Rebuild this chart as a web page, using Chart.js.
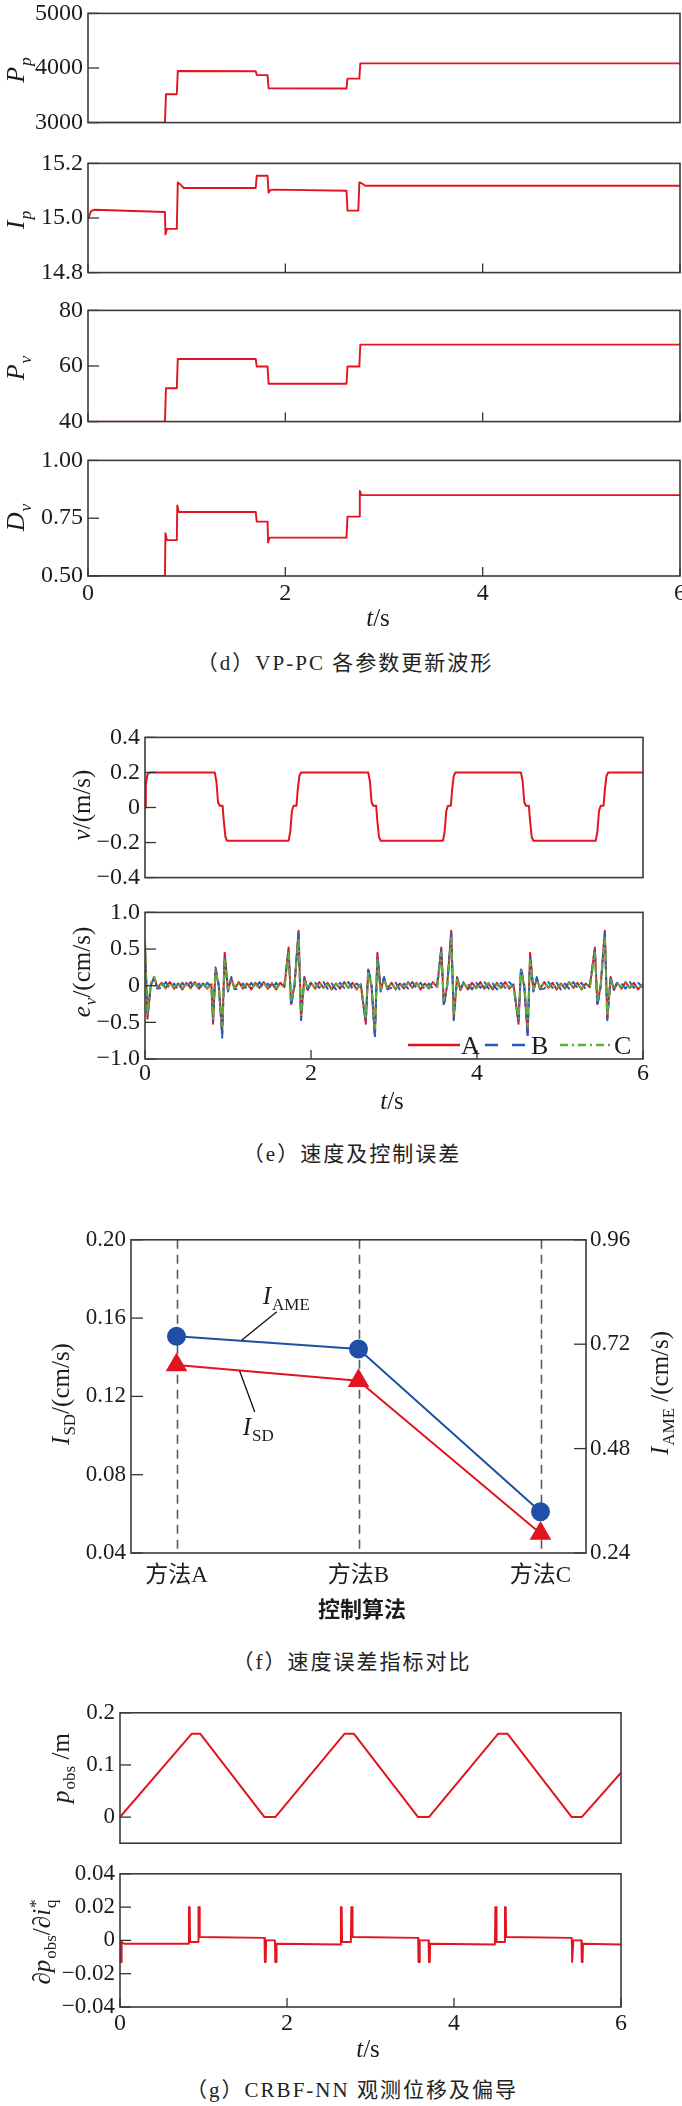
<!DOCTYPE html>
<html><head><meta charset="utf-8">
<script src="https://cdn.jsdelivr.net/npm/chart.js@4.4.1/dist/chart.umd.min.js"></script>
<style>
html,body{margin:0;padding:0;background:#fff;}
body{width:682px;height:2106px;position:relative;overflow:hidden;}
.cap{position:absolute;text-align:center;font-size:21px;line-height:26px;font-family:"Liberation Serif","Noto Sans CJK SC",serif;color:#222;letter-spacing:2px;white-space:nowrap;}
</style></head><body>
<div class="cap" style="top:650px;left:0;width:690px">（d）VP-PC 各参数更新波形</div>
<div class="cap" style="top:1141px;left:0;width:704px">（e）速度及控制误差</div>
<div class="cap" style="top:1649px;left:0;width:704px">（f）速度误差指标对比</div>
<div class="cap" style="top:2077px;left:0;width:704px">（g）CRBF-NN 观测位移及偏导</div>
<script>
// ---------------- DATA ----------------
// (d) VP-PC parameter update waveforms
const tPp = [0, 0.78, 0.79, 0.90, 0.91, 1.70, 1.71, 1.82, 1.83, 2.62, 2.63, 2.75, 2.76, 6];
const Pp  = [3000, 3000, 3520, 3520, 3945, 3940, 3870, 3870, 3630, 3625, 3805, 3805, 4085, 4085];
const tIp = [0, 0.03, 0.06, 0.78, 0.785, 0.80, 0.90, 0.91, 0.93, 0.97, 1.70, 1.71, 1.82, 1.83, 1.85, 1.90, 2.62, 2.63, 2.74, 2.75, 2.77, 2.81, 6];
const Ip  = [14.995, 15.025, 15.03, 15.022, 14.94, 14.96, 14.96, 15.13, 15.125, 15.11, 15.11, 15.155, 15.155, 15.093, 15.103, 15.104, 15.10, 15.027, 15.027, 15.13, 15.128, 15.118, 15.118];
const tPv = [0, 0.78, 0.79, 0.90, 0.91, 1.70, 1.71, 1.82, 1.83, 2.62, 2.63, 2.75, 2.76, 6];
const Pv  = [40, 40, 52, 52, 62.5, 62.5, 59.8, 59.8, 53.6, 53.6, 59.8, 59.8, 67.7, 67.7];
const tDv = [0, 0.78, 0.785, 0.80, 0.90, 0.905, 0.92, 1.70, 1.71, 1.82, 1.825, 1.84, 2.62, 2.63, 2.75, 2.755, 2.77, 6];
const Dv  = [0.50, 0.50, 0.685, 0.655, 0.655, 0.805, 0.777, 0.777, 0.735, 0.735, 0.645, 0.666, 0.666, 0.757, 0.757, 0.868, 0.85, 0.85];

// (e) speed and control error
const tV = [0, 0.01, 0.03, 0.06,
  0.84, 0.86, 0.88, 0.90, 0.935, 0.95, 0.97, 0.99,
  1.73, 1.75, 1.77, 1.79, 1.825, 1.84, 1.86, 1.88,
  2.69, 2.71, 2.73, 2.75, 2.785, 2.80, 2.82, 2.84,
  3.59, 3.61, 3.63, 3.65, 3.685, 3.70, 3.72, 3.74,
  4.53, 4.55, 4.57, 4.59, 4.625, 4.64, 4.66, 4.68,
  5.43, 5.45, 5.47, 5.49, 5.525, 5.54, 5.56, 5.58,
  6];
const vel = [0, 0.13, 0.19, 0.2,
  0.2, 0.15, 0.03, 0.01, 0.01, -0.08, -0.17, -0.19,
  -0.19, -0.14, -0.02, 0.01, 0.01, 0.1, 0.18, 0.2,
  0.2, 0.15, 0.03, 0.01, 0.01, -0.08, -0.17, -0.19,
  -0.19, -0.14, -0.02, 0.01, 0.01, 0.1, 0.18, 0.2,
  0.2, 0.15, 0.03, 0.01, 0.01, -0.08, -0.17, -0.19,
  -0.19, -0.14, -0.02, 0.01, 0.01, 0.1, 0.18, 0.2,
  0.2];
const eTime = [0,0.03,0.07,0.11,0.15,
  0.20,0.25,0.30,0.35,0.40,0.45,0.50,0.55,0.60,0.65,0.70,0.75,0.80,
  0.82,0.85,0.89,0.93,0.96,1.00,1.04,1.08,
  1.13,1.18,1.23,1.28,1.33,1.38,1.43,1.48,1.53,1.58,1.63,1.68,
  1.73,1.76,1.80,1.85,1.88,1.92,1.96,2.00,
  2.05,2.10,2.15,2.20,2.25,2.30,2.35,2.40,2.45,2.50,2.55,2.60,
  2.66,2.69,2.73,2.77,2.80,2.84,2.88,2.92,
  2.97,3.02,3.07,3.12,3.17,3.22,3.27,3.32,3.37,3.42,3.47,3.52,
  3.57,3.60,3.64,3.69,3.72,3.76,3.80,3.84,
  3.89,3.94,3.99,4.04,4.09,4.14,4.19,4.24,4.29,4.34,4.39,4.44,
  4.50,4.53,4.57,4.61,4.64,4.68,4.72,4.76,
  4.81,4.86,4.91,4.96,5.01,5.06,5.11,5.16,5.21,5.26,5.31,5.36,
  5.42,5.45,5.49,5.54,5.57,5.61,5.65,5.69,
  5.74,5.79,5.84,5.89,5.94,6.00];
const errA = [0.55,-0.45,0.00,0.12,-0.03,
  0.04,-0.03,0.05,-0.04,0.03,-0.05,0.04,-0.03,0.05,-0.04,0.03,-0.04,0.02,
  -0.52,0.22,-0.02,-0.65,0.45,-0.06,0.10,-0.04,
  0.05,-0.04,0.03,-0.05,0.04,-0.03,0.05,-0.04,0.03,-0.05,0.04,-0.02,
  0.52,-0.25,0.00,0.75,-0.45,0.12,-0.06,0.04,
  -0.04,0.05,-0.03,0.04,-0.05,0.03,-0.04,0.05,-0.03,0.04,-0.05,0.02,
  -0.52,0.22,-0.02,-0.68,0.45,-0.06,0.10,-0.04,
  0.04,-0.05,0.03,-0.04,0.05,-0.03,0.04,-0.05,0.03,-0.04,0.05,-0.02,
  0.52,-0.25,0.00,0.75,-0.45,0.12,-0.06,0.04,
  -0.05,0.04,-0.03,0.05,-0.04,0.03,-0.05,0.04,-0.03,0.05,-0.04,0.02,
  -0.52,0.22,-0.02,-0.66,0.45,-0.06,0.10,-0.04,
  0.05,-0.03,0.04,-0.05,0.03,-0.04,0.05,-0.03,0.04,-0.05,0.03,-0.02,
  0.52,-0.25,0.00,0.75,-0.45,0.12,-0.06,0.04,
  -0.04,0.05,-0.03,0.04,-0.05,0.02];
const errB = [0.50,-0.42,0.02,0.10,-0.04,
  -0.03,0.05,-0.04,0.03,-0.05,0.04,-0.03,0.05,-0.04,0.03,-0.05,0.04,-0.02,
  -0.48,0.25,0.01,-0.71,0.40,-0.08,0.12,-0.05,
  -0.04,0.03,-0.05,0.04,-0.03,0.05,-0.04,0.03,-0.05,0.04,-0.03,0.02,
  0.50,-0.28,-0.02,0.72,-0.47,0.10,-0.05,0.05,
  0.04,-0.03,0.05,-0.04,0.03,-0.05,0.04,-0.03,0.05,-0.04,0.03,-0.02,
  -0.48,0.25,0.01,-0.72,0.40,-0.08,0.12,-0.05,
  -0.03,0.04,-0.05,0.03,-0.04,0.05,-0.03,0.04,-0.05,0.03,-0.04,0.02,
  0.50,-0.28,-0.02,0.72,-0.47,0.10,-0.05,0.05,
  0.03,-0.05,0.04,-0.03,0.05,-0.04,0.03,-0.05,0.04,-0.03,0.05,-0.02,
  -0.48,0.25,0.01,-0.71,0.40,-0.08,0.12,-0.05,
  -0.04,0.05,-0.03,0.04,-0.05,0.03,-0.04,0.05,-0.03,0.04,-0.05,0.02,
  0.50,-0.28,-0.02,0.72,-0.47,0.10,-0.05,0.05,
  0.03,-0.04,0.05,-0.03,0.04,-0.02];
const errC = [0.62,-0.40,0.03,0.12,-0.02,
  0.02,-0.04,0.03,-0.02,0.04,-0.03,0.02,-0.04,0.03,-0.02,0.04,-0.03,0.02,
  -0.45,0.20,0.00,-0.55,0.35,-0.05,0.08,-0.03,
  0.03,-0.02,0.04,-0.03,0.02,-0.04,0.03,-0.02,0.04,-0.03,0.02,-0.02,
  0.45,-0.20,0.00,0.65,-0.40,0.08,-0.04,0.03,
  -0.02,0.04,-0.03,0.02,-0.04,0.03,-0.02,0.04,-0.03,0.02,-0.04,0.02,
  -0.45,0.20,0.00,-0.58,0.35,-0.05,0.08,-0.03,
  0.03,-0.04,0.02,-0.03,0.04,-0.02,0.03,-0.04,0.02,-0.03,0.04,-0.02,
  0.45,-0.20,0.00,0.65,-0.40,0.08,-0.04,0.03,
  -0.03,0.02,-0.04,0.03,-0.02,0.04,-0.03,0.02,-0.04,0.03,-0.02,0.02,
  -0.45,0.20,0.00,-0.56,0.35,-0.05,0.08,-0.03,
  0.04,-0.02,0.03,-0.04,0.02,-0.03,0.04,-0.02,0.03,-0.04,0.02,-0.02,
  0.45,-0.20,0.00,0.65,-0.40,0.08,-0.04,0.03,
  -0.02,0.04,-0.03,0.02,-0.04,0.02];

// (f) speed-error index comparison
const methods = ['方法A', '方法B', '方法C'];
const isd  = [0.136, 0.128, 0.050];
const iame = [0.738, 0.709, 0.335];

// (g) CRBF-NN observed displacement and partial derivative
const tPobs = [0, 0.86, 0.96, 1.73, 1.86, 2.69, 2.80, 3.57, 3.70, 4.53, 4.64, 5.41, 5.53, 6];
const pobs  = [0, 0.16, 0.16, 0, 0, 0.16, 0.16, 0, 0, 0.16, 0.16, 0, 0, 0.085];
const tDp = [0, 0.005, 0.015, 0.02, 0.05,
  0.82, 0.825, 0.835, 0.84, 0.935, 0.94, 0.95, 0.955,
  1.73, 1.735, 1.745, 1.75, 1.855, 1.86, 1.87, 1.875,
  2.64, 2.645, 2.655, 2.66, 2.765, 2.77, 2.78, 2.785,
  3.57, 3.575, 3.585, 3.59, 3.695, 3.70, 3.71, 3.715,
  4.49, 4.495, 4.505, 4.51, 4.605, 4.61, 4.62, 4.625,
  5.41, 5.415, 5.425, 5.43, 5.525, 5.53, 5.54, 5.545,
  6];
const dpdi = [0, -0.013, -0.013, -0.001, -0.002,
  -0.002, 0.02, 0.02, -0.001, -0.001, 0.02, 0.02, 0.002,
  0.0015, -0.013, -0.013, 0.0, 0.0, -0.013, -0.013, -0.002,
  -0.0025, 0.02, 0.02, -0.001, -0.001, 0.02, 0.02, 0.002,
  0.0015, -0.013, -0.013, 0.0, 0.0, -0.013, -0.013, -0.002,
  -0.0025, 0.02, 0.02, -0.001, -0.001, 0.02, 0.02, 0.002,
  0.0015, -0.013, -0.013, 0.0, 0.0, -0.013, -0.013, -0.002,
  -0.0025];

// tick values / labels
const tTickV = [0, 2, 4, 6];          const tTickL = ['0', '2', '4', '6'];
const PpTickV = [3000, 4000, 5000];   const PpTickL = ['3000', '4000', '5000'];
const IpTickV = [14.8, 15.0, 15.2];   const IpTickL = ['14.8', '15.0', '15.2'];
const PvTickV = [40, 60, 80];         const PvTickL = ['40', '60', '80'];
const DvTickV = [0.5, 0.75, 1.0];     const DvTickL = ['0.50', '0.75', '1.00'];
const vTickV = [-0.4, -0.2, 0, 0.2, 0.4]; const vTickL = ['\u22120.4', '\u22120.2', '0', '0.2', '0.4'];
const eTickV = [-1, -0.5, 0, 0.5, 1];     const eTickL = ['\u22121.0', '\u22120.5', '0', '0.5', '1.0'];
const sdTickV = [0.04, 0.08, 0.12, 0.16, 0.20]; const sdTickL = ['0.04', '0.08', '0.12', '0.16', '0.20'];
const amTickV = [0.24, 0.48, 0.72, 0.96];       const amTickL = ['0.24', '0.48', '0.72', '0.96'];
const poTickV = [0, 0.1, 0.2];        const poTickL = ['0', '0.1', '0.2'];
const dpTickV = [-0.04, -0.02, 0, 0.02, 0.04]; const dpTickL = ['\u22120.04', '\u22120.02', '0', '0.02', '0.04'];

// ---------------- RENDERING ----------------
const SERIF = '"Liberation Serif","Times New Roman",serif';
const MIXED = '"Liberation Serif","Noto Sans CJK SC",serif';
const CW = 700;
const RED = '#e2141f', BLUE = '#1f4fa6', BLUEL = '#2c57c4', GREEN = '#5db034', INK = '#1c1c1c';
const DECO = new Map();

function xy(ts, vs) { return ts.map((t, i) => ({ x: t, y: vs[i] })); }

function fnt(sz, it, bold, fam) { return (it ? 'italic ' : '') + (bold ? 'bold ' : '') + sz + 'px ' + (fam || SERIF); }
function richLayout(ctx, parts, size, bold, fam) {
  let x = 0; const out = [];
  for (const p of parts) {
    if (p.t !== undefined) {
      ctx.font = fnt(size, p.i, bold, fam);
      out.push({ t: p.t, x, dy: 0, font: ctx.font });
      x += ctx.measureText(p.t).width;
    } else {
      const ss = size * 0.68; let w = 0;
      ctx.font = fnt(ss, p.i, bold, fam);
      if (p.sub) { out.push({ t: p.sub, x: x + 1, dy: size * 0.26, font: ctx.font }); w = Math.max(w, ctx.measureText(p.sub).width + 1); }
      if (p.sup) { out.push({ t: p.sup, x: x + 1, dy: -size * 0.36, font: ctx.font }); w = Math.max(w, ctx.measureText(p.sup).width + 1); }
      x += w;
    }
  }
  return { out, w: x };
}
function drawRich(ctx, parts, x, y, size, rot, align, bold, fam) {
  ctx.save();
  ctx.translate(x, y);
  if (rot) ctx.rotate(rot);
  const L = richLayout(ctx, parts, size, bold, fam);
  ctx.fillStyle = INK; ctx.textAlign = 'left'; ctx.textBaseline = 'alphabetic';
  const x0 = align === 'left' ? 0 : -L.w / 2;
  const base = align === 'left' ? 0 : size * 0.34;
  for (const it of L.out) { ctx.font = it.font; ctx.fillText(it.t, x0 + it.x, base + it.dy); }
  ctx.restore();
}

const decoPlugin = {
  id: 'deco',
  beforeDatasetsDraw(chart) {
    const o = DECO.get(chart.canvas); if (!o || !o.vlines) return;
    const ctx = chart.ctx, a = chart.chartArea, s = chart.scales.x;
    ctx.save(); ctx.strokeStyle = '#5a5a5a'; ctx.lineWidth = 1.6; ctx.setLineDash([9, 6]);
    o.vlines.forEach(v => { const p = Math.round(s.getPixelForValue(v)) + 0.5; ctx.beginPath(); ctx.moveTo(p, a.top); ctx.lineTo(p, a.bottom); ctx.stroke(); });
    ctx.restore();
  },
  afterDraw(chart) {
    const o = DECO.get(chart.canvas); if (!o) return;
    const ctx = chart.ctx, a = chart.chartArea;
    ctx.save();
    ctx.setLineDash([]);
    ctx.strokeStyle = '#333'; ctx.lineWidth = 1.3;
    (o.ticks || []).forEach(([id, side, len]) => {
      const s = chart.scales[id];
      s.ticks.forEach(tk => {
        const p = s.getPixelForValue(tk.value);
        ctx.beginPath();
        if (side === 'bottom') { ctx.moveTo(p, a.bottom); ctx.lineTo(p, a.bottom - len); }
        else if (side === 'left') { ctx.moveTo(a.left, p); ctx.lineTo(a.left + len, p); }
        else { ctx.moveTo(a.right, p); ctx.lineTo(a.right - len, p); }
        ctx.stroke();
      });
    });
    ctx.strokeStyle = '#3b3b3b'; ctx.lineWidth = 1.6;
    ctx.strokeRect(a.left, a.top, a.right - a.left, a.bottom - a.top);
    if (o.leaders) {
      const sx = chart.scales.x, sy = chart.scales.y;
      ctx.strokeStyle = '#111'; ctx.lineWidth = 1.3;
      o.leaders.forEach(([x1, y1, x2, y2]) => {
        ctx.beginPath(); ctx.moveTo(sx.getPixelForValue(x1), sy.getPixelForValue(y1));
        ctx.lineTo(sx.getPixelForValue(x2), sy.getPixelForValue(y2)); ctx.stroke();
      });
      o.notes.forEach(n => drawRich(ctx, n.p, sx.getPixelForValue(n.x), sy.getPixelForValue(n.y), n.fs, 0, 'left'));
    }
    if (o.legend) {
      const L = o.legend, y = L.y - o.top;
      L.items.forEach(([di, lab, x, len]) => {
        const ds = chart.data.datasets[di];
        ctx.save(); ctx.strokeStyle = ds.borderColor; ctx.lineWidth = 2.6; ctx.setLineDash(L.dash[di]);
        ctx.beginPath(); ctx.moveTo(x, y); ctx.lineTo(x + len, y); ctx.stroke(); ctx.restore();
        ctx.font = fnt(L.fs); ctx.fillStyle = INK; ctx.textAlign = 'left'; ctx.textBaseline = 'alphabetic';
        ctx.fillText(lab, x + len + 1, y + L.fs * 0.33);
      });
    }
    (o.titles || []).forEach(t => drawRich(ctx, t.p, t.x, t.y - o.top, t.fs, t.rot ? -Math.PI / 2 : 0, 'center', t.bold, t.fam));
    ctx.restore();
  }
};

function linAxis(o) {
  return {
    type: 'linear', position: o.pos, min: o.min, max: o.max,
    afterBuildTicks: s => { s.ticks = o.vals.map(v => ({ value: v })); },
    afterFit: s => { if (o.w != null) s.width = o.w; if (o.h != null) s.height = o.h; },
    ticks: { display: !!o.show, autoSkip: false, maxRotation: 0, minRotation: 0, padding: o.pad == null ? 6 : o.pad, color: INK,
      font: { family: o.fam || SERIF, size: o.fs || 22 }, callback: (v, i) => o.labs[i] },
    grid: { display: false, drawTicks: false }, border: { display: false }
  };
}

function panel(rect, mt, mb, datasets, scales, deco, rw) {
  const [l, t, r, b] = rect; const top = t - mt, H = b + mb - top;
  const cv = document.createElement('canvas'); cv.width = CW; cv.height = H;
  cv.style.cssText = 'position:absolute;left:0;top:' + top + 'px;width:' + CW + 'px;height:' + H + 'px';
  document.body.appendChild(cv);
  deco.top = top; DECO.set(cv, deco);
  return new Chart(cv, {
    type: 'line', data: { datasets },
    options: {
      responsive: false, maintainAspectRatio: false, animation: false, devicePixelRatio: 1, events: [],
      layout: { padding: { left: 0, top: mt, right: CW - r - (rw || 0), bottom: 0 } },
      scales,
      plugins: { legend: { display: false }, tooltip: { enabled: false } },
      elements: { point: { radius: 0 }, line: { tension: 0, borderJoinStyle: 'round' } }
    },
    plugins: [decoPlugin]
  });
}
const IT = t => ({ t, i: 1 }), N = t => ({ t });
const redLine = (ts, vs, w) => ({ data: xy(ts, vs), borderColor: RED, borderWidth: w || 1.9, pointRadius: 0 });

// ---- (d) ----
const DL = 88, DR = 680;
const dPanels = [
  { rect: [DL, 8, DR, 128], ts: tPp, vs: Pp, tv: PpTickV, tl: PpTickL, min: 3000, max: 5000, title: [IT('P'), { sub: 'p', i: 1 }], xt: false },
  { rect: [DL, 158, DR, 278], ts: tIp, vs: Ip, tv: IpTickV, tl: IpTickL, min: 14.8, max: 15.2, title: [IT('I'), { sub: 'p', i: 1 }], xt: true },
  { rect: [DL, 305, DR, 427], ts: tPv, vs: Pv, tv: PvTickV, tl: PvTickL, min: 40, max: 80, title: [IT('P'), { sub: 'v', i: 1 }], xt: true },
  { rect: [DL, 455, DR, 576], ts: tDv, vs: Dv, tv: DvTickV, tl: DvTickL, min: 0.5, max: 1.0, title: [IT('D'), { sub: 'v', i: 1 }], xt: true, last: true }
];
dPanels.forEach(P => {
  const mb = P.last ? 60 : 14;
  const titles = [{ p: P.title, x: 15, y: (P.rect[1] + P.rect[3]) / 2 + 2, fs: 26, rot: 1 }];
  if (P.last) titles.push({ p: [IT('t'), N('/s')], x: 378, y: 617, fs: 25 });
  const ticks = [['y', 'left', 11]]; if (P.xt) ticks.push(['x', 'bottom', 9]);
  panel(P.rect, 14, mb, [redLine(P.ts, P.vs)], {
    x: linAxis({ vals: tTickV, labs: tTickL, min: 0, max: 6, show: !!P.last, fs: 24, pad: 3, h: mb, pos: 'bottom' }),
    y: linAxis({ vals: P.tv, labs: P.tl, min: P.min, max: P.max, show: true, fs: 24, pad: 5, w: DL, pos: 'left' })
  }, { ticks, titles });
});

// ---- (e) ----
const EL = 145, ER = 643;
panel([EL, 732, ER, 883], 14, 14, [redLine(tV, vel, 2)], {
  x: linAxis({ vals: tTickV, labs: tTickL, min: 0, max: 6, show: false, h: 14, pos: 'bottom' }),
  y: linAxis({ vals: vTickV, labs: vTickL, min: -0.4, max: 0.4, show: true, fs: 24, pad: 5, w: EL, pos: 'left' })
}, { ticks: [['y', 'left', 11]], titles: [{ p: [IT('v'), N('/(m/s)')], x: 81, y: 805, fs: 25, rot: 1 }] });

panel([EL, 907, ER, 1059], 14, 60, [
  { data: xy(eTime, errA), borderColor: RED, borderWidth: 2, pointRadius: 0, order: 2 },
  { data: xy(eTime, errB), borderColor: BLUEL, borderWidth: 2, borderDash: [9, 5], pointRadius: 0, order: 1 },
  { data: xy(eTime, errC), borderColor: GREEN, borderWidth: 2, borderDash: [8, 3, 2, 3], pointRadius: 0, order: 0 }
], {
  x: linAxis({ vals: tTickV, labs: tTickL, min: 0, max: 6, show: true, fs: 24, pad: 0, h: 60, pos: 'bottom' }),
  y: linAxis({ vals: eTickV, labs: eTickL, min: -1, max: 1, show: true, fs: 24, pad: 5, w: EL, pos: 'left' })
}, {
  ticks: [['y', 'left', 11], ['x', 'bottom', 9]],
  legend: { y: 1045, fs: 26, dash: [[], [13, 14], [8, 4, 2, 4]], items: [[0, 'A', 408, 52], [1, 'B', 485, 45], [2, 'C', 560, 53]] },
  titles: [{ p: [IT('e'), { sub: 'v', i: 1 }, N('/(cm/s)')], x: 81, y: 972, fs: 25, rot: 1 },
           { p: [IT('t'), N('/s')], x: 392, y: 1100, fs: 25 }]
});

// ---- (f) ----
const FL = 131, FR = 586, FRW = 62;
const catIdx = methods.map((_, i) => i);
panel([FL, 1235, FR, 1553], 14, 70, [
  { data: catIdx.map(i => ({ x: i, y: iame[i] })), yAxisID: 'y2', borderColor: BLUE, backgroundColor: BLUE, pointBackgroundColor: BLUE, pointBorderColor: BLUE,
    borderWidth: 2, pointStyle: 'circle', pointRadius: 8.5 },
  { data: catIdx.map(i => ({ x: i, y: isd[i] })), yAxisID: 'y', borderColor: RED, backgroundColor: RED, pointBackgroundColor: RED, pointBorderColor: RED,
    borderWidth: 2, pointStyle: 'triangle', pointRadius: 10.5 }
], {
  x: linAxis({ vals: catIdx, labs: methods, min: -0.25, max: 2.25, show: true, fs: 23, pad: 9, h: 70, pos: 'bottom', fam: MIXED }),
  y: linAxis({ vals: sdTickV, labs: sdTickL, min: 0.04, max: 0.20, show: true, fs: 23, pad: 5, w: FL, pos: 'left' }),
  y2: linAxis({ vals: amTickV, labs: amTickL, min: 0.24, max: 0.96, show: true, fs: 23, pad: 4, w: FRW, pos: 'right' })
}, {
  vlines: catIdx,
  ticks: [['y', 'left', 12], ['y2', 'right', 12]],
  leaders: [[0.551, 0.1633, 0.358, 0.1487], [0.43, 0.112, 0.347, 0.133]],
  notes: [{ p: [IT('I'), { sub: 'AME' }], x: 0.474, y: 0.1673, fs: 25 }, { p: [IT('I'), { sub: 'SD' }], x: 0.364, y: 0.1004, fs: 25 }],
  titles: [{ p: [IT('I'), { sub: 'SD' }, N('/(cm/s)')], x: 60, y: 1394, fs: 25, rot: 1 },
           { p: [IT('I'), { sub: 'AME' }, N(' /(cm/s)')], x: 659, y: 1393, fs: 25, rot: 1 },
           { p: [N('控制算法')], x: 362, y: 1610, fs: 22, bold: true, fam: '"Noto Sans CJK SC",sans-serif' }]
}, FRW);

// ---- (g) ----
const GL = 120, GR = 621;
panel([GL, 1708, GR, 1848], 14, 14, [redLine(tPobs, pobs, 2)], {
  x: linAxis({ vals: tTickV, labs: tTickL, min: 0, max: 6, show: false, h: 14, pos: 'bottom' }),
  y: linAxis({ vals: poTickV, labs: poTickL, min: -0.05, max: 0.2, show: true, fs: 23, pad: 5, w: GL, pos: 'left' })
}, { ticks: [['y', 'left', 11]], titles: [{ p: [IT('p'), { sub: 'obs' }, N(' /m')], x: 60, y: 1768, fs: 25, rot: 1 }] });

panel([GL, 1869, GR, 2007], 14, 60, [redLine(tDp, dpdi, 1.9)], {
  x: linAxis({ vals: tTickV, labs: tTickL, min: 0, max: 6, show: true, fs: 24, pad: 2, h: 60, pos: 'bottom' }),
  y: linAxis({ vals: dpTickV, labs: dpTickL, min: -0.04, max: 0.04, show: true, fs: 23, pad: 5, w: GL, pos: 'left' })
}, {
  ticks: [['y', 'left', 11], ['x', 'bottom', 9]],
  titles: [{ p: [N('\u2202'), IT('p'), { sub: 'obs' }, N('/\u2202'), IT('i'), { sub: 'q', sup: '*' }], x: 41, y: 1942, fs: 25, rot: 1 },
           { p: [IT('t'), N('/s')], x: 368, y: 2048, fs: 25 }]
});
</script>
</body></html>
